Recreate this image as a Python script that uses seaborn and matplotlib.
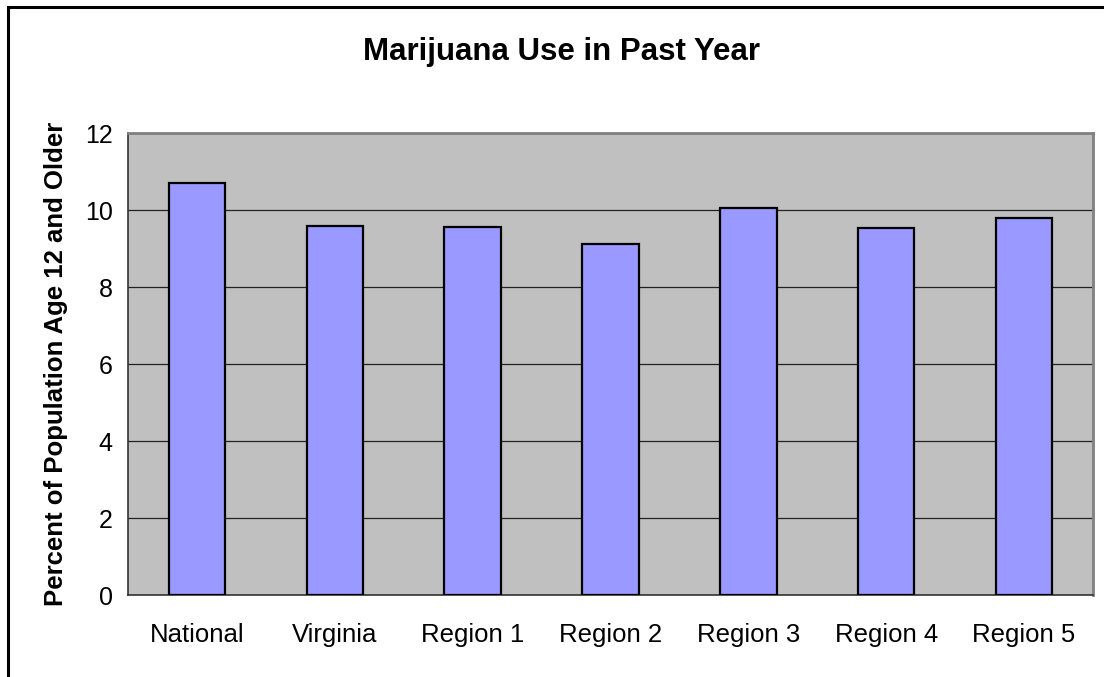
import numpy as np
import pandas as pd
import matplotlib
matplotlib.use("Agg")
import matplotlib.pyplot as plt
import seaborn as sns
from matplotlib.patches import Rectangle

# Past-year marijuana use by area (percent of population age 12+)
areas = ["National", "Virginia", "Region 1", "Region 2", "Region 3", "Region 4", "Region 5"]
percent_use = [10.70, 9.60, 9.56, 9.12, 10.06, 9.54, 9.81]
y_ticks = [0, 2, 4, 6, 8, 10, 12]

df = pd.DataFrame({"area": areas, "percent": percent_use})

sns.set_style("white")
plt.rcParams["font.family"] = ["Liberation Sans", "DejaVu Sans"]
plt.rcParams.update({"text.color": "black", "axes.labelcolor": "black",
                     "xtick.color": "black", "ytick.color": "black"})

fig = plt.figure(figsize=(11.04, 6.77), dpi=100)
ax = fig.add_axes([0.116, 0.121, 0.874, 0.682])
ax.set_facecolor("#C0C0C0")

sns.barplot(data=df, x="area", y="percent", order=areas, color="#9999FF",
            saturation=1, width=0.41, edgecolor="black", linewidth=1.6, ax=ax,
            zorder=3)

ax.set_ylim(0, 12)
ax.set_xlim(-0.5, len(areas) - 0.5)
ax.set_yticks(y_ticks)
ax.set_yticklabels([str(t) for t in y_ticks], fontsize=18)
ax.yaxis.grid(True, color="#222222", linewidth=0.9, zorder=0)
ax.set_axisbelow(True)

# category labels centred, tick marks on category boundaries
ax.set_xticks(range(len(areas)))
ax.set_xticklabels(areas, fontsize=18.5)
ax.tick_params(axis="x", which="major", length=0, pad=20)
ax.set_xticks(np.arange(-0.5, len(areas), 1), minor=True)
ax.tick_params(axis="x", which="minor", length=6, width=1, color="#333333", direction="out")
ax.tick_params(axis="y", length=6, width=1, color="#333333", direction="out", pad=5)

ax.set_xlabel("")
ax.set_ylabel("Percent of Population Age 12 and Older", fontsize=18.5,
              fontweight="bold", labelpad=12)

for side in ["top", "right"]:
    ax.spines[side].set_color("#808080")
    ax.spines[side].set_linewidth(2)
for side in ["left", "bottom"]:
    ax.spines[side].set_color("#333333")
    ax.spines[side].set_linewidth(1.2)

fig.text(0.509, 0.923, "Marijuana Use in Past Year", ha="center", va="center",
         fontsize=22.5, fontweight="bold")

# outer chart frame
fig.patches.append(Rectangle((8 / 1104, -0.05), 1.2, 1 - 7 / 677 + 0.05,
                             transform=fig.transFigure, fill=False,
                             edgecolor="black", linewidth=2.2))

fig.savefig("out.png", dpi=100)
